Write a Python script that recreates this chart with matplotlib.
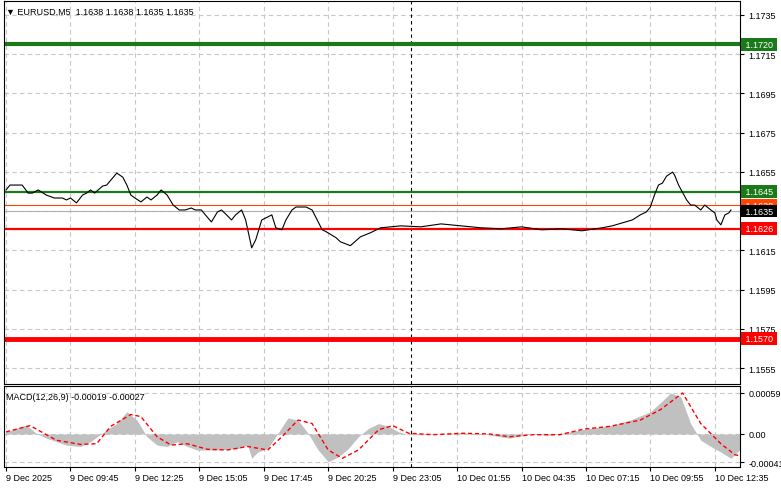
import numpy as np
import matplotlib.pyplot as plt

# price keypoints (bar index, close)
bars = [0, 2, 8, 11, 13, 16, 20, 24, 28, 30, 32, 35, 38, 40, 42, 44, 48, 50, 55, 58, 60,
        62, 64, 67, 70, 72, 75, 77, 80, 83, 86, 89, 92, 94, 97, 99, 102, 105, 107, 108, 110,
        112, 114, 117, 119, 122, 124, 127, 132, 134, 137, 139, 142, 144, 147, 149, 152, 154,
        157, 159, 164, 166, 171, 176, 181, 186, 196, 206, 216, 226, 236, 246, 256, 266, 276,
        286, 296, 301, 306, 311, 315, 318, 320, 322, 324, 326, 328, 331, 332, 334, 338, 340,
        342, 345, 347, 350, 352, 353, 355, 357, 359, 360]
price = [1.16458, 1.16483, 1.16483, 1.16442, 1.16442, 1.16458, 1.16432, 1.16417, 1.16417,
         1.16407, 1.16417, 1.16392, 1.16432, 1.16442, 1.16458, 1.16442, 1.16478, 1.16483,
         1.16544, 1.16523, 1.16483, 1.16432, 1.16417, 1.16397, 1.16422, 1.16407, 1.16432,
         1.16458, 1.16432, 1.16381, 1.16356, 1.16356, 1.16366, 1.16356, 1.16356, 1.16331,
         1.16295, 1.16346, 1.16356, 1.16346, 1.16326, 1.16305, 1.16331, 1.16356, 1.16305,
         1.16163, 1.16204, 1.16305, 1.16331, 1.16265, 1.16255, 1.16305, 1.16356, 1.16371,
         1.16371, 1.16371, 1.16356, 1.16316, 1.16255, 1.16245, 1.16214, 1.16194, 1.16174,
         1.16219, 1.16240, 1.16265, 1.16275, 1.16270, 1.16285, 1.16275, 1.16265, 1.16260,
         1.16270, 1.16255, 1.16260, 1.16250, 1.16265, 1.16275, 1.16290, 1.16305, 1.16331,
         1.16346, 1.16371, 1.16432, 1.16483, 1.16493, 1.16528, 1.16549, 1.16534, 1.16483,
         1.16407, 1.16381, 1.16381, 1.16356, 1.16381, 1.16356, 1.16341, 1.16305, 1.16280,
         1.16331, 1.16341, 1.16356]

# MACD histogram and signal keypoints (bar index, value in 1e-5)
h_bars = [0, 10, 15, 20, 30, 37, 42, 50, 55, 60, 65, 70, 75, 80, 85, 90, 95, 105, 115, 120,
          122, 125, 130, 135, 140, 145, 150, 155, 160, 165, 170, 175, 180, 185, 190, 195, 200,
          212, 225, 237, 250, 260, 270, 280, 290, 300, 310, 320, 325, 330, 335, 340, 345, 350,
          355, 360, 365]
h_vals = [3, 13, 1, -6, -16, -18, -11, 6, 15, 32, 20, -4, -16, -18, -11, -18, -23, -23, -21,
          -16, -35, -26, -21, 1, 23, 20, 1, -23, -40, -33, -21, -4, 8, 15, 11, 3, -1, -1, 2,
          0, -6, 0, -2, 3, 8, 12, 20, 32, 45, 59, 54, 15, -9, -18, -26, -35, -21]
s_bars = [0, 12, 25, 37, 45, 52, 62, 67, 75, 82, 90, 100, 110, 120, 130, 137, 145, 152, 160,
          167, 175, 185, 192, 200, 212, 227, 240, 250, 262, 275, 287, 300, 315, 325, 336, 345,
          355, 362, 366]
s_vals = [3, 12, -9, -15, -14, 11, 28, 25, -4, -16, -14, -22, -23, -18, -23, -4, 20, 15, -23,
          -35, -23, 6, 12, 1, -1, 1, 0, -4, -1, -1, 7, 11, 20, 35, 59, 15, -14, -30, -32]

tick_bars = [0, 32, 64, 96, 128, 160, 192, 224, 256, 288, 320, 352]
tick_labels = ['9 Dec 2025', '9 Dec 09:45', '9 Dec 12:25', '9 Dec 15:05', '9 Dec 17:45',
               '9 Dec 20:25', '9 Dec 23:05', '10 Dec 01:55', '10 Dec 04:35', '10 Dec 07:15',
               '10 Dec 09:55', '10 Dec 12:35']
price_ticks = [1.1735, 1.1715, 1.1695, 1.1675, 1.1655, 1.1635, 1.1615, 1.1595, 1.1575, 1.1555]

levels = [(1.1720, '#1a7a1a', 3.0, '1.1720'), (1.1645, '#1a7a1a', 1.6, '1.1645'),
          (1.1638, '#ff4500', 0.8, '1.1638'), (1.1635, '#b0b0b0', 0.8, '1.1635'),
          (1.1626, '#ff0000', 1.6, '1.1626'), (1.1570, '#ff0000', 3.5, '1.1570')]
box_colors = {'1.1720': '#1a7a1a', '1.1645': '#1a7a1a', '1.1638': '#ff4500',
              '1.1635': '#000000', '1.1626': '#ff0000', '1.1570': '#ff0000'}

plt.rcParams['font.family'] = 'Liberation Sans'
fs = 6.5
fig = plt.figure(figsize=(7.81, 4.89), dpi=100)
ax = fig.add_axes([4 / 781, 1 - 385 / 489, 736 / 781, 383 / 489])
ax2 = fig.add_axes([4 / 781, 1 - 468 / 489, 736 / 781, 81 / 489])

xlim = (-1, 364.5)
for a in (ax, ax2):
    a.set_xlim(*xlim)
    a.set_xticks(tick_bars)
    a.grid(True, color='#c8c8c8', linestyle=(0, (4, 3)), linewidth=0.8)
    a.axvline(201, color='black', linestyle=(0, (3, 3)), linewidth=0.8)
    a.yaxis.tick_right()
    a.tick_params(axis='y', labelsize=fs, length=3, pad=3)
    for s in a.spines.values():
        s.set_color('black')

ax.set_ylim(1.15469, 1.17421)
ax.set_yticks(price_ticks)
ax.set_yticklabels([f'{p:.4f}' if p != 1.1635 else '' for p in price_ticks])
ax.tick_params(axis='x', labelbottom=False, length=0)
for val, col, lw, _ in levels:
    ax.axhline(val, color=col, linewidth=lw, zorder=2)
ax.plot(bars, price, color='black', linewidth=0.8, zorder=3)
for val, col, lw, lab in levels:
    ax.text(1.004, val, ' ' + lab + ' ', transform=ax.get_yaxis_transform(), fontsize=fs,
            color='white', va='center', ha='left', zorder=5,
            bbox=dict(boxstyle='square,pad=0.2', fc=box_colors[lab], ec='none'))
ax.text(0.003, 0.985, '\u25bc EURUSD,M5  1.1638 1.1638 1.1635 1.1635', transform=ax.transAxes,
        fontsize=fs, va='top', ha='left')

h = np.array(h_vals) * 1e-5
ax2.fill_between(h_bars, h, 0, color='#c0c0c0', linewidth=0, zorder=2)
ax2.plot(s_bars, np.array(s_vals) * 1e-5, color='red', linestyle=(0, (3, 2)), linewidth=1,
         zorder=3)
ax2.set_ylim(-0.000475, 0.00069)
ax2.set_yticks([0.00059, 0.0, -0.00041])
ax2.set_yticklabels(['0.00059', '0.00', '-0.00041'])
ax2.set_xticklabels(tick_labels, fontsize=fs, ha='left')
ax2.tick_params(axis='x', length=3, pad=1)
ax2.text(0.003, 0.93, 'MACD(12,26,9) -0.00019 -0.00027', transform=ax2.transAxes,
         fontsize=fs, va='top', ha='left')

fig.savefig('out.png', dpi=100)
